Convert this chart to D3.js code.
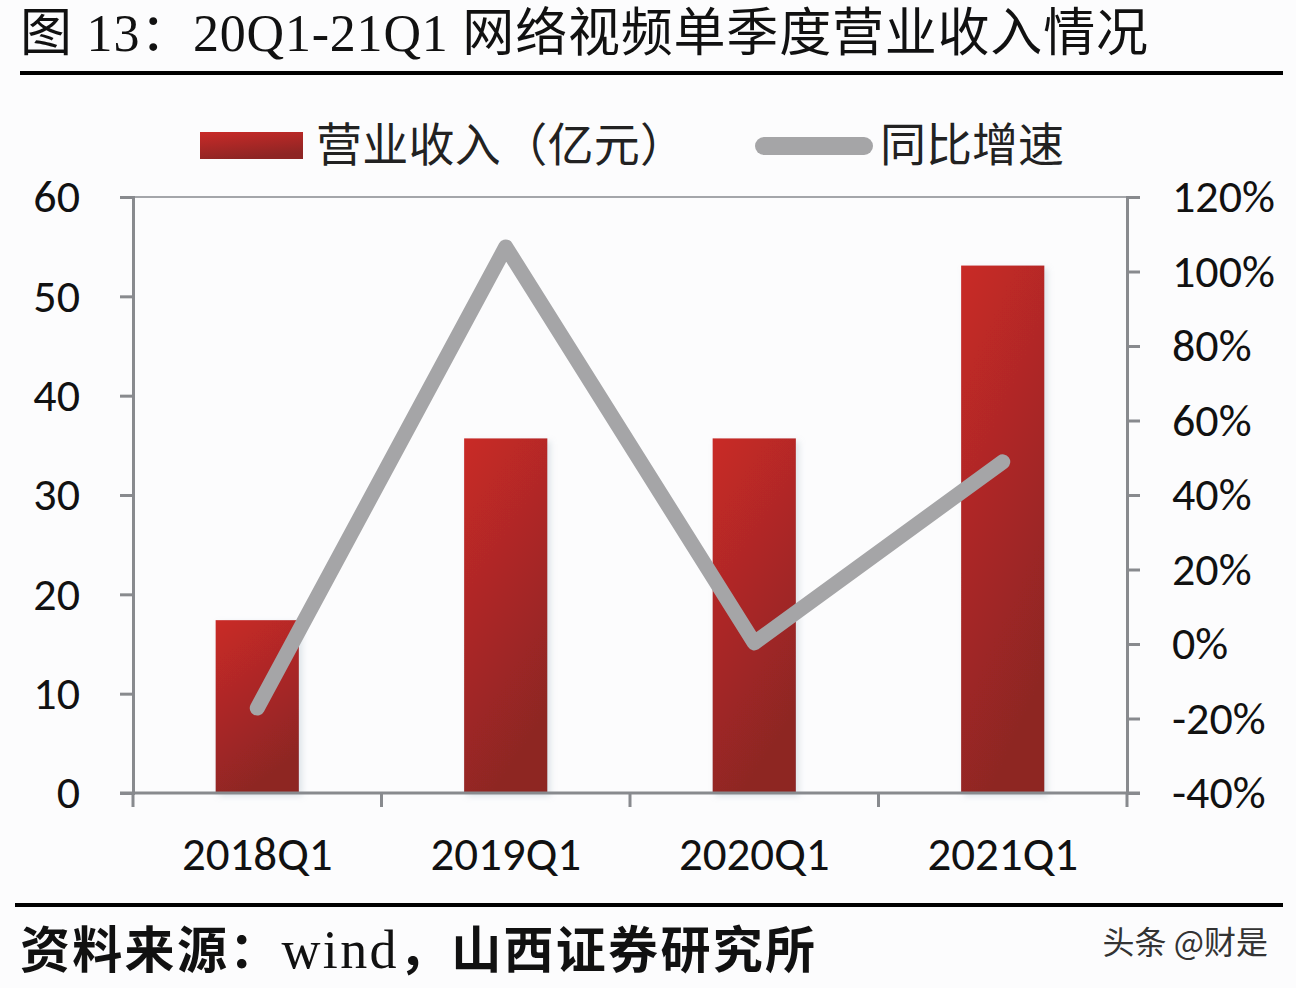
<!DOCTYPE html>
<html>
<head>
<meta charset="utf-8">
<script src="https://cdn.jsdelivr.net/npm/d3@7"></script>
<style>
  body { margin: 0; background: #fcfcfd; }
  svg { display: block; }
</style>
</head>
<body>
<div id="chart-area"></div>
<script>
// data
const quarters = ["2018Q1", "2019Q1", "2020Q1", "2021Q1"];
const revenue = [17.4, 35.7, 35.7, 53.1];      // 营业收入（亿元）
const growth = [-0.172, 1.066, 0.003, 0.489];  // 同比增速
const leftTicks = [0, 10, 20, 30, 40, 50, 60];
const rightTicks = [-0.4, -0.2, 0, 0.2, 0.4, 0.6, 0.8, 1.0, 1.2];

const W = 1296, H = 988;
const plot = { left: 133, right: 1127, top: 197, bottom: 793 };
const sans = "Carlito, 'Open Sans', 'Noto Sans CJK SC', sans-serif";
const cjk = "'Noto Sans CJK SC', sans-serif";
const serif = "'Liberation Serif', 'Noto Sans CJK SC', serif";
const axisColor = "#888a8e";

const svg = d3.select("#chart-area")
    .append("svg")
    .attr("width", W)
    .attr("height", H);

svg.append("rect").attr("width", W).attr("height", H).attr("fill", "#fcfcfd");

const defs = svg.append("defs");
const grad = defs.append("linearGradient")
    .attr("id", "barGrad")
    .attr("x1", "0").attr("y1", "0").attr("x2", "0.35").attr("y2", "1");
grad.append("stop").attr("offset", "0%").attr("stop-color", "#c92a28");
grad.append("stop").attr("offset", "100%").attr("stop-color", "#8e2524");

const shadow = defs.append("filter").attr("id", "shadow")
    .attr("x", "-20%").attr("y", "-10%").attr("width", "140%").attr("height", "120%");
shadow.append("feDropShadow")
    .attr("dx", 3).attr("dy", 3).attr("stdDeviation", 3)
    .attr("flood-color", "#9fb4c0").attr("flood-opacity", 0.35);

/** Title */
svg.append("text")
    .attr("x", 20)
    .attr("y", 51)
    .attr("font-size", "52px")
    .attr("font-family", serif)
    .attr("textLength", 1128)
    .attr("lengthAdjust", "spacing")
    .style("fill", "#111")
    .text("图 13：20Q1-21Q1 网络视频单季度营业收入情况");

svg.append("line")
    .attr("x1", 20).attr("x2", 1283)
    .attr("y1", 73).attr("y2", 73)
    .attr("stroke", "#000").attr("stroke-width", 4);

svg.append("line")
    .attr("x1", 15).attr("x2", 1283)
    .attr("y1", 905).attr("y2", 905)
    .attr("stroke", "#000").attr("stroke-width", 4);

/** Scales */
const x = d3.scaleBand().domain(quarters).range([plot.left, plot.right]).paddingInner(0).paddingOuter(0);
const yL = d3.scaleLinear().domain([0, 60]).range([plot.bottom, plot.top]);
const yR = d3.scaleLinear().domain([-0.4, 1.2]).range([plot.bottom, plot.top]);

// top border of plot area
svg.append("line")
    .attr("x1", plot.left).attr("x2", plot.right)
    .attr("y1", plot.top).attr("y2", plot.top)
    .attr("stroke", "#a4a6aa").attr("stroke-width", 2);

/** Axes */
const leftAxis = d3.axisLeft(yL).tickValues(leftTicks).tickSize(13).tickPadding(40);
const rightAxis = d3.axisRight(yR).tickValues(rightTicks).tickSize(13).tickPadding(32)
    .tickFormat(d => Math.round(d * 100) + "%");
const bottomAxis = d3.axisBottom(x).tickSize(0).tickPadding(44);

function styleAxis(g) {
    g.select(".domain").attr("stroke", axisColor).attr("stroke-width", 3);
    g.selectAll(".tick line").attr("stroke", axisColor).attr("stroke-width", 3);
    g.selectAll("text")
        .attr("font-family", sans)
        .attr("font-size", "46px")
        .style("fill", "#111");
}

svg.append("g")
    .attr("class", "left axis")
    .attr("transform", "translate(" + plot.left + ",0)")
    .call(leftAxis)
    .call(styleAxis);

const gR = svg.append("g")
    .attr("class", "right axis")
    .attr("transform", "translate(" + plot.right + ",0)")
    .call(rightAxis)
    .call(styleAxis);
gR.selectAll("text").attr("text-anchor", "start");

/** Bars */
const barW = x.bandwidth() * 0.335;
svg.selectAll("rect.bar")
    .data(revenue)
    .enter()
    .append("rect")
    .attr("class", "bar")
    .attr("x", (d, i) => x(quarters[i]) + x.bandwidth() / 2 - barW / 2)
    .attr("y", d => yL(d))
    .attr("width", barW)
    .attr("height", d => yL(0) - yL(d))
    .attr("fill", "url(#barGrad)")
    .attr("filter", "url(#shadow)");

const gB = svg.append("g")
    .attr("class", "bottom axis")
    .attr("transform", "translate(0," + plot.bottom + ")")
    .call(bottomAxis)
    .call(styleAxis);
gB.select(".domain").attr("d", "M" + (plot.left - 13) + ",0H" + (plot.right + 13));
gB.selectAll("text").attr("font-size", "47px");

// category boundary ticks
svg.selectAll("line.cat-tick")
    .data(d3.range(quarters.length + 1))
    .enter()
    .append("line")
    .attr("class", "cat-tick")
    .attr("x1", i => plot.left + i * x.step())
    .attr("x2", i => plot.left + i * x.step())
    .attr("y1", plot.bottom)
    .attr("y2", plot.bottom + 14)
    .attr("stroke", axisColor)
    .attr("stroke-width", 3);

/** Growth line */
const line = d3.line()
    .x((d, i) => x(quarters[i]) + x.bandwidth() / 2)
    .y(d => yR(d));

svg.append("path")
    .datum(growth)
    .attr("d", line)
    .attr("fill", "none")
    .attr("stroke", "#a5a5a7")
    .attr("stroke-width", 15)
    .attr("stroke-linecap", "round")
    .attr("stroke-linejoin", "round");

/** Legend */
const leg = svg.append("g").attr("class", "legend");
leg.append("rect")
    .attr("x", 200).attr("y", 132)
    .attr("width", 103).attr("height", 27)
    .attr("fill", "url(#barGrad)");
leg.append("text")
    .attr("x", 316).attr("y", 161)
    .attr("font-size", "46px")
    .attr("font-family", cjk)
    .attr("textLength", 370)
    .attr("lengthAdjust", "spacing")
    .style("fill", "#222")
    .text("营业收入（亿元）");
leg.append("line")
    .attr("x1", 764).attr("x2", 864)
    .attr("y1", 146).attr("y2", 146)
    .attr("stroke", "#a5a5a7")
    .attr("stroke-width", 18)
    .attr("stroke-linecap", "round");
leg.append("text")
    .attr("x", 880).attr("y", 161)
    .attr("font-size", "46px")
    .attr("font-family", cjk)
    .style("fill", "#222")
    .text("同比增速");

/** Source */
const src = svg.append("text")
    .attr("x", 20)
    .attr("y", 968)
    .attr("font-size", "50px")
    .attr("font-family", serif)
    .attr("textLength", 795)
    .attr("lengthAdjust", "spacing")
    .style("fill", "#111");
src.append("tspan").attr("font-family", cjk).attr("font-weight", "bold").text("资料来源：");
src.append("tspan").attr("font-size", "54px").text("wind");
src.append("tspan").attr("font-family", cjk).attr("font-weight", "bold").text("，山西证券研究所");

svg.append("text")
    .attr("x", 1268)
    .attr("y", 954)
    .attr("text-anchor", "end")
    .attr("font-size", "32px")
    .attr("font-family", cjk)
    .style("fill", "#333")
    .text("头条 @财是");
</script>
</body>
</html>
